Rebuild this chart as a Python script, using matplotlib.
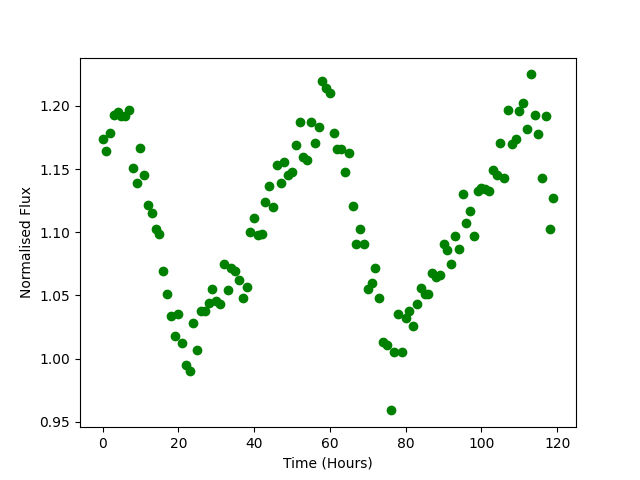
# Normalised flux against time, hourly readings
import numpy as np
import matplotlib
matplotlib.use("Agg")
import matplotlib.pyplot as plt

# time in hours
hours = np.arange(120)

# normalised flux readings
flux = [
    1.174, 1.164, 1.179, 1.193, 1.195, 1.192, 1.192, 1.197, 1.151, 1.139,
    1.167, 1.145, 1.122, 1.115, 1.103, 1.099, 1.069, 1.051, 1.034, 1.018,
    1.035, 1.012, 0.995, 0.990, 1.028, 1.007, 1.038, 1.038, 1.044, 1.055,
    1.046, 1.043, 1.075, 1.054, 1.072, 1.069, 1.062, 1.048, 1.057, 1.100,
    1.111, 1.098, 1.099, 1.124, 1.137, 1.120, 1.153, 1.139, 1.156, 1.145,
    1.148, 1.169, 1.187, 1.160, 1.157, 1.187, 1.171, 1.183, 1.220, 1.214,
    1.210, 1.179, 1.166, 1.166, 1.148, 1.163, 1.121, 1.091, 1.103, 1.091,
    1.055, 1.060, 1.072, 1.048, 1.013, 1.011, 0.959, 1.005, 1.035, 1.005,
    1.032, 1.038, 1.026, 1.043, 1.056, 1.051, 1.051, 1.068, 1.065, 1.066,
    1.091, 1.086, 1.075, 1.097, 1.087, 1.130, 1.107, 1.117, 1.097, 1.133,
    1.135, 1.134, 1.133, 1.149, 1.145, 1.171, 1.143, 1.197, 1.170, 1.174,
    1.196, 1.202, 1.182, 1.225, 1.193, 1.178, 1.143, 1.192, 1.103, 1.127,
]

plt.figure(figsize=(6.4, 4.8), dpi=100)
plt.plot(hours, flux, "go")
plt.xlabel("Time (Hours)")
plt.ylabel("Normalised Flux")
plt.savefig("out.png")
